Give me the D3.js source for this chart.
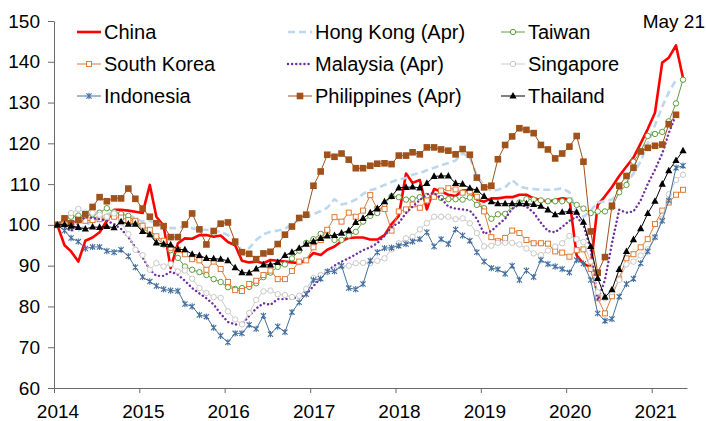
<!DOCTYPE html>
<html>
<head>
<meta charset="utf-8">
<script src="https://cdn.jsdelivr.net/npm/d3@7"></script>
<style>
  body { margin: 0; background: #fff; }
  svg { display: block; font-family: "Liberation Sans", Arial, sans-serif; }
</style>
</head>
<body>
<svg id="chart" width="706" height="421"></svg>
<script>
// monthly index, Jan 2014 = 100 (series with "(Apr)" end one month earlier)
var yearLabels = ["2014", "2015", "2016", "2017", "2018", "2019", "2020", "2021"];
var yTicks = [60, 70, 80, 90, 100, 110, 120, 130, 140, 150];

var china = [100, 95.0, 93.5, 91.0, 96.1, 96.9, 98.2, 101.0, 103.7, 103.7, 103.5, 103.2,
  102.9, 109.8, 102.0, 99.8, 89.4, 95.5, 96.7, 96.6, 97.5, 97.5, 97.1, 97.4,
  95.8, 95.0, 91.2, 90.8, 91.0, 90.6, 91.4, 91.2, 91.0, 90.8, 90.6, 91.4,
  93.1, 92.6, 93.9, 94.7, 96.0, 96.8, 96.9, 96.9, 96.4, 96.4, 97.5, 100.2,
  102.2, 112.6, 110.3, 111.0, 103.8, 108.8, 108.2, 107.4, 107.1, 108.4, 108.6, 106.2,
  105.7, 106.5, 106.5, 106.8, 106.8, 107.4, 107.4, 106.5, 106.1, 105.7, 106.1, 106.5,
  106.3, 92.5, 90.5, 89.6, 104.9, 107.0, 109.3, 112.0, 114.3, 116.5, 120.0, 123.5,
  127.5, 139.8, 141.0, 144.0, 136.0];

var hongKong = [100, 99.5, 98.7, 98.6, 99.7, 101.2, 102.0, 102.6, 103.0, 102.9, 102.5, 101.6,
  100.8, 101.0, 100.4, 100.0, 99.2, 99.2, 99.6, 99.2, 98.8, 98.8, 98.5, 98.3,
  97.5, 96.0, 93.6, 94.3, 96.3, 97.7, 98.3, 98.6, 99.0, 100.2, 101.2, 102.0,
  102.6, 103.4, 104.2, 106.3, 105.0, 105.4, 106.2, 107.6, 108.5, 109.0, 109.8, 110.5,
  111.2, 111.5, 112.3, 112.7, 113.4, 114.0, 114.6, 115.2, 115.8, 117.6, 116.5, 112.0,
  109.6, 108.3, 108.6, 109.2, 111.0, 109.4, 109.0, 108.8, 108.6, 108.6, 108.7, 109.0,
  108.0, 103.0, 102.0, 103.5, 105.5, 105.8, 106.2, 108.0, 110.2, 112.6, 115.6, 120.0,
  124.5, 129.0, 132.5, 135.6];

var taiwan = [100, 101.0, 102.0, 102.3, 102.2, 102.6, 103.0, 104.1, 103.1, 102.7, 102.2, 100.8,
  99.2, 98.0, 96.8, 95.2, 93.8, 91.9, 89.8, 89.0, 88.4, 87.7, 86.7, 86.0,
  84.7, 84.3, 84.5, 84.8, 85.7, 87.2, 88.3, 89.7, 90.3, 91.8, 93.7, 95.6,
  96.5, 97.8, 98.6, 96.3, 96.3, 97.4, 98.3, 100.8, 102.2, 102.9, 105.1, 107.0,
  106.8, 106.2, 106.4, 106.8, 107.1, 107.1, 106.6, 106.3, 106.3, 106.2, 106.7, 104.9,
  104.1, 101.5, 102.6, 102.7, 104.5, 105.5, 106.3, 106.2, 106.0, 105.8, 105.8, 105.8,
  106.0, 104.9, 104.0, 102.9, 103.3, 103.3, 104.3, 108.0, 109.8, 115.5, 118.0, 121.8,
  122.3, 122.8, 125.4, 129.8, 135.6];

var southKorea = [100, 100.8, 100.4, 101.2, 101.0, 101.2, 101.4, 101.8, 102.0, 101.8, 101.2, 101.0,
  99.8, 98.8, 97.2, 96.1, 94.4, 93.9, 92.8, 91.6, 91.3, 89.0, 91.0, 89.2,
  86.0, 84.0, 83.8, 85.5, 86.3, 87.7, 88.8, 86.7, 86.7, 88.7, 91.0, 91.3,
  94.5, 96.3, 98.8, 101.9, 100.8, 103.0, 102.0, 103.5, 107.3, 103.9, 103.9, 98.6,
  103.3, 103.8, 105.0, 104.2, 106.0, 106.9, 108.4, 109.0, 108.7, 107.9, 108.2, 106.9,
  103.3, 97.0, 96.0, 96.8, 98.6, 98.0, 96.3, 95.5, 95.5, 95.4, 93.5, 93.2,
  92.2, 93.8, 94.0, 89.2, 82.0, 78.3, 82.5, 86.8, 91.8, 92.8, 94.5, 96.5,
  100.2, 103.5, 105.5, 107.4, 108.6];

var malaysia = [100, 99.5, 98.5, 100.3, 102.0, 101.7, 101.4, 101.0, 100.2, 99.0, 97.0, 94.5,
  92.0, 89.0, 87.5, 87.5, 88.5, 87.8, 86.3, 84.5, 83.2, 82.0, 80.5, 78.2,
  76.2, 75.6, 75.6, 77.7, 79.5, 80.8, 80.4, 81.8, 81.8, 82.0, 82.2, 83.0,
  85.0, 87.0, 88.7, 90.0, 91.0, 91.8, 92.8, 93.8, 94.5, 95.5, 97.3, 99.5,
  100.5, 102.9, 104.5, 106.1, 107.5, 107.8, 106.5, 104.5, 104.0, 103.8, 103.5, 101.5,
  97.8, 98.5, 100.0, 101.5, 104.0, 105.0, 104.5, 103.0, 100.5, 98.5, 98.2, 99.5,
  101.0, 102.0, 100.0, 94.0, 81.5, 86.5, 95.5, 103.7, 103.0, 103.3, 106.0, 110.0,
  113.5, 117.5, 122.5, 127.0];

var singapore = [100, 101.6, 102.9, 103.9, 103.0, 103.0, 102.5, 102.0, 102.8, 100.6, 97.7, 93.9,
  92.6, 89.0, 90.6, 89.8, 90.4, 88.6, 88.8, 86.8, 84.5, 83.3, 82.3, 82.1,
  78.8, 76.8, 75.6, 78.4, 81.6, 83.7, 83.9, 83.0, 82.8, 82.3, 82.6, 84.3,
  87.0, 87.7, 88.4, 89.0, 89.8, 90.0, 90.6, 90.7, 90.6, 91.2, 91.8, 94.0,
  95.5, 96.7, 97.1, 98.9, 100.4, 102.0, 102.0, 102.0, 101.4, 101.6, 100.4, 98.0,
  94.7, 94.9, 95.6, 95.6, 95.6, 95.2, 94.2, 93.0, 92.6, 93.7, 94.7, 95.5,
  97.3, 96.5, 95.8, 91.0, 83.5, 82.0, 83.5, 86.5, 90.3, 91.0, 92.5, 94.0,
  97.0, 101.5, 107.5, 111.0, 112.3];

var indonesia = [100, 98.6, 96.8, 95.9, 94.2, 94.6, 94.6, 93.6, 93.3, 93.9, 92.3, 89.6,
  87.2, 86.1, 85.0, 84.2, 83.9, 83.8, 80.6, 80.0, 77.9, 77.5, 74.8, 72.8,
  71.2, 73.4, 73.4, 75.5, 74.5, 77.7, 73.2, 75.1, 73.7, 78.6, 81.0, 83.0,
  86.5, 86.8, 88.6, 88.6, 90.0, 84.5, 84.2, 85.5, 91.2, 93.3, 94.3, 94.4,
  94.9, 95.3, 95.9, 96.5, 98.2, 94.7, 96.5, 95.3, 98.9, 97.4, 96.1, 93.3,
  91.0, 89.4, 89.1, 88.0, 90.0, 86.5, 88.8, 87.2, 91.4, 90.4, 89.8, 89.2,
  88.3, 91.4, 90.5, 86.5, 78.3, 76.5, 76.9, 82.4, 85.5, 86.8, 90.6, 93.5,
  97.0, 101.0, 106.0, 114.0, 114.5];

var philippines = [100, 101.6, 100.4, 101.2, 102.6, 104.4, 106.8, 105.8, 106.5, 106.5, 108.9, 106.4,
  104.0, 102.0, 100.4, 99.7, 97.0, 97.0, 100.1, 102.8, 98.9, 95.2, 98.5, 100.3,
  100.6, 95.9, 93.3, 92.9, 91.6, 93.0, 93.4, 95.3, 97.6, 99.6, 101.7, 102.5,
  109.6, 113.1, 117.2, 116.7, 117.5, 116.0, 113.9, 113.9, 114.5, 115.0, 115.1, 114.9,
  117.0, 117.0, 117.8, 117.3, 119.0, 119.0, 118.5, 118.2, 117.3, 118.6, 117.2, 111.6,
  109.2, 109.6, 116.1, 119.6, 121.7, 123.7, 123.3, 122.5, 119.6, 118.5, 116.3, 117.5,
  119.2, 121.8, 115.5, 98.4, 88.3, 92.1, 104.7, 109.6, 112.0, 114.0, 118.0, 118.9,
  119.4, 119.7, 124.7, 127.0];

var thailand = [100, 100.1, 99.7, 99.4, 99.0, 99.5, 99.4, 99.6, 99.3, 100.8, 100.2, 100.2,
  98.4, 97.6, 95.6, 95.3, 95.1, 94.0, 93.9, 92.8, 92.5, 91.8, 91.7, 91.6,
  91.2, 89.5, 88.3, 88.2, 89.2, 90.2, 90.2, 90.8, 92.5, 93.3, 94.3, 95.3,
  95.9, 96.7, 97.3, 97.4, 98.0, 98.6, 100.6, 101.6, 103.0, 104.0, 105.7, 107.0,
  109.1, 109.2, 109.3, 109.1, 110.2, 111.9, 112.0, 112.0, 110.2, 110.0, 109.0, 108.5,
  107.0, 105.7, 105.2, 105.2, 105.2, 105.2, 105.2, 105.0, 104.6, 103.7, 102.5, 103.1,
  103.3, 103.1, 100.7, 94.7, 86.9, 82.3, 84.1, 89.1, 93.5, 96.4, 99.1, 102.8,
  105.8, 110.0, 113.3, 115.8, 118.2];

var series = [
  { name: "China", values: china, color: "#ff0000", width: 2.6 },
  { name: "Hong Kong (Apr)", values: hongKong, color: "#bdd7ee", width: 2.6, dash: "7,4" },
  { name: "Taiwan", values: taiwan, color: "#5f9e3c", width: 1, marker: "circle" },
  { name: "South Korea", values: southKorea, color: "#e07a34", width: 1, marker: "square" },
  { name: "Malaysia (Apr)", values: malaysia, color: "#7030a0", width: 2.4, dash: "0.1,4", cap: "round" },
  { name: "Singapore", values: singapore, color: "#c9c9c9", width: 1, marker: "circle" },
  { name: "Indonesia", values: indonesia, color: "#44709f", width: 1, marker: "star" },
  { name: "Philippines (Apr)", values: philippines, color: "#a1511a", width: 1, marker: "filledSquare" },
  { name: "Thailand", values: thailand, color: "#000000", width: 1, marker: "triangle" }
];

var svg = d3.select("#chart");

var x = d3.scaleTime()
    .domain([new Date(2014, 0, 1), new Date(2021, 5, 1)])
    .range([54, 687]);
var y = d3.scaleLinear()
    .domain([60, 150])
    .range([388, 21]);

function monthDate(i) {
  return new Date(2014, i, 15);
}

// axes
var xAxis = svg.append("g")
    .attr("transform", "translate(0,388)")
    .call(d3.axisBottom(x)
      .tickValues(yearLabels.map(function(d) { return new Date(+d, 0, 1); }))
      .tickFormat(function(d, i) { return yearLabels[i]; })
      .tickSize(5)
      .tickSizeOuter(0)
      .tickPadding(12));

var yAxis = svg.append("g")
    .attr("transform", "translate(54,0)")
    .call(d3.axisLeft(y)
      .tickValues(yTicks)
      .tickSize(6)
      .tickSizeOuter(0)
      .tickPadding(8));

svg.selectAll(".domain, .tick line")
    .attr("stroke", "#6b6b6b")
    .attr("stroke-width", 1);
svg.selectAll(".tick text")
    .attr("fill", "#000")
    .style("font-size", "19px")
    .style("font-family", "'Liberation Sans', Arial, sans-serif");
xAxis.selectAll(".tick text").attr("dx", 3.5);

// lines
var line = d3.line()
    .x(function(d, i) { return x(monthDate(i)); })
    .y(function(d) { return y(d); });

function drawMarker(g, type, color) {
  if (type == "circle") {
    g.append("circle").attr("r", 2.7)
      .attr("fill", "#fff").attr("stroke", color).attr("stroke-width", 1);
  } else if (type == "square") {
    g.append("rect").attr("x", -2.5).attr("y", -2.5).attr("width", 5).attr("height", 5)
      .attr("fill", "#fff").attr("stroke", color).attr("stroke-width", 1);
  } else if (type == "filledSquare") {
    g.append("rect").attr("x", -3.3).attr("y", -3.3).attr("width", 6.6).attr("height", 6.6)
      .attr("fill", color);
  } else if (type == "triangle") {
    g.append("path").attr("d", "M0,-4L3.6,2.6L-3.6,2.6Z").attr("fill", color);
  } else if (type == "star") {
    g.append("path").attr("d", "M-2.6,-2.6L2.6,2.6M-2.6,2.6L2.6,-2.6M0,-3.2L0,3.2")
      .attr("stroke", color).attr("stroke-width", 1.1).attr("fill", "none");
  }
}

var plot = svg.append("g");

series.forEach(function(s) {
  var g = plot.append("g");
  g.append("path")
    .datum(s.values)
    .attr("d", line)
    .attr("fill", "none")
    .attr("stroke", s.color)
    .attr("stroke-width", s.width)
    .attr("stroke-dasharray", s.dash || null)
    .attr("stroke-linecap", s.cap || "butt")
    .attr("stroke-linejoin", "round");
  if (s.marker) {
    g.selectAll(".m")
      .data(s.values)
      .enter()
      .append("g")
      .attr("transform", function(d, i) { return "translate(" + x(monthDate(i)) + "," + y(d) + ")"; })
      .each(function() { drawMarker(d3.select(this), s.marker, s.color); });
  }
});

// legend, 3 columns
var legendX = [77, 288, 501],
    legendY = [32, 64, 96];

series.forEach(function(s, i) {
  var lx = legendX[i % 3], ly = legendY[Math.floor(i / 3)];
  var g = svg.append("g").attr("transform", "translate(" + lx + "," + ly + ")");
  g.append("line")
    .attr("x1", 0).attr("x2", 24).attr("y1", 0).attr("y2", 0)
    .attr("stroke", s.color)
    .attr("stroke-width", s.width)
    .attr("stroke-dasharray", s.dash || null)
    .attr("stroke-linecap", s.cap || "butt");
  if (s.marker) {
    var m = g.append("g").attr("transform", "translate(12,0)");
    drawMarker(m, s.marker, s.color);
  }
  g.append("text")
    .attr("x", 27)
    .attr("dy", "0.35em")
    .style("font-size", "20px")
    .attr("fill", "#000")
    .text(s.name);
});

svg.append("text")
    .attr("x", 705)
    .attr("y", 21)
    .attr("dy", "0.35em")
    .attr("text-anchor", "end")
    .style("font-size", "19px")
    .attr("fill", "#000")
    .text("May 21");
</script>
</body>
</html>
